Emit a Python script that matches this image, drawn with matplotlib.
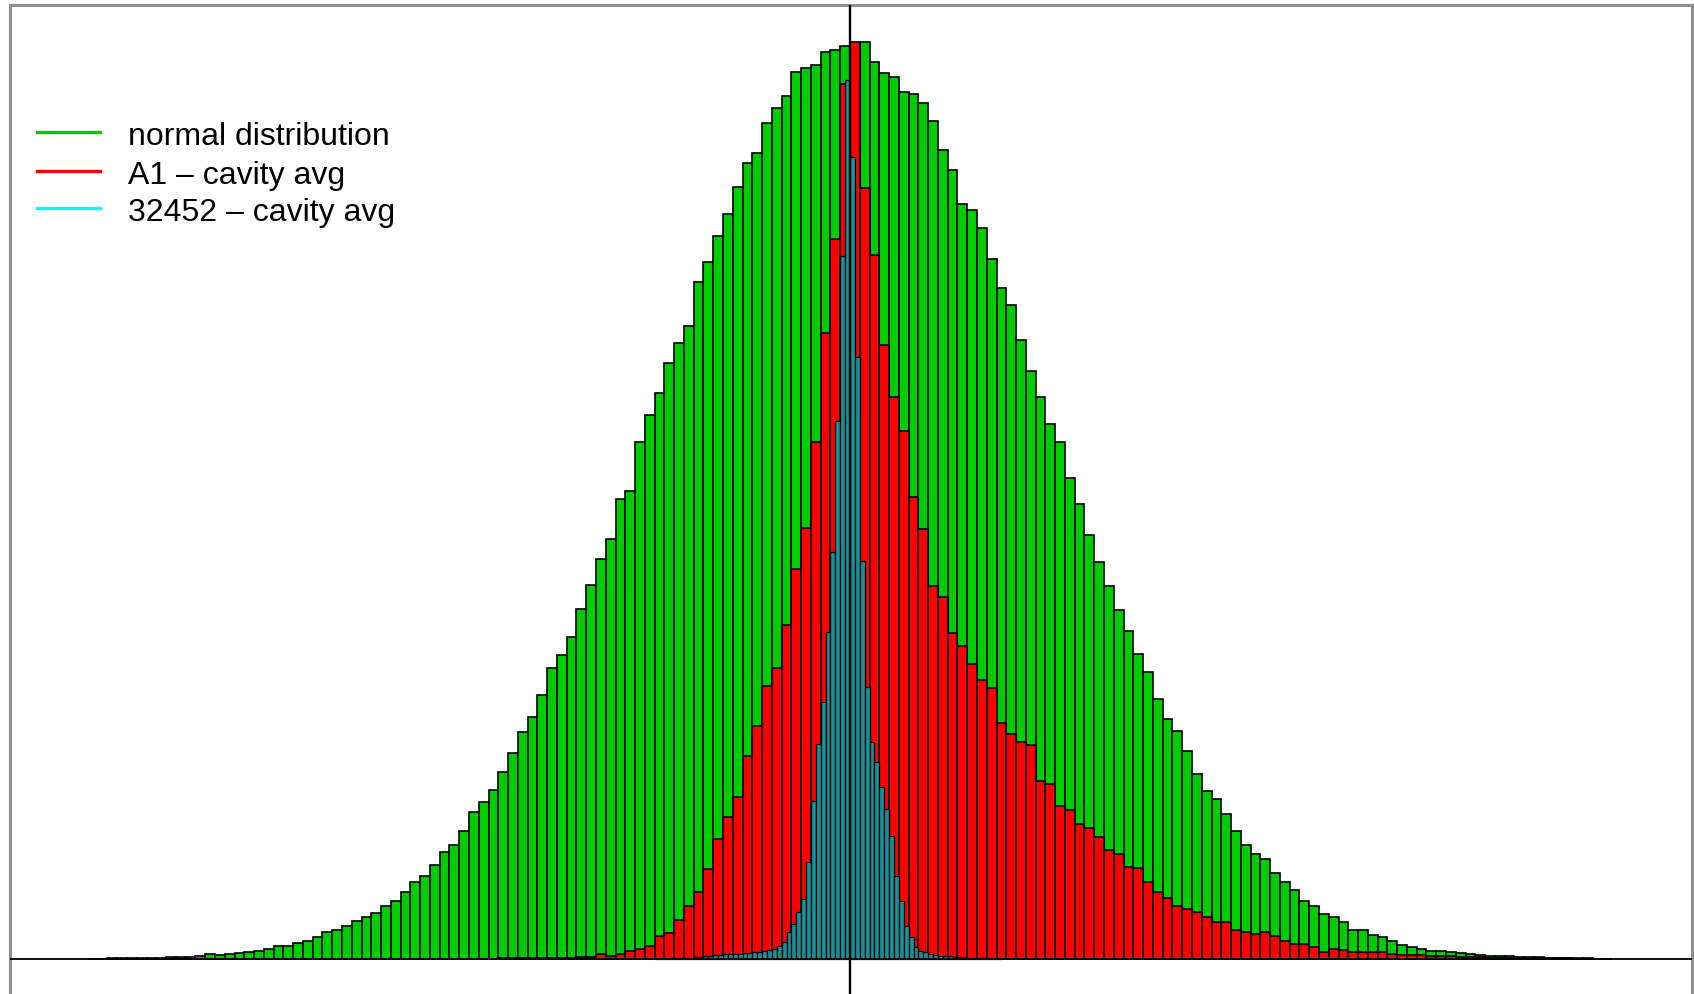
import numpy as np
import matplotlib
matplotlib.use("Agg")
import matplotlib.pyplot as plt
from matplotlib.lines import Line2D

# counts per bin (bin width = 1 unit, 0 = centre line)
GREEN_START = -78
green_counts = [
    0.3, 0.4, 0.5, 0.6, 0.7, 0.8, 1.0, 1.2, 1.5, 2.0,            # -78 .. -69
    2.3, 3.3, 5.0, 4.3, 5.0, 6.0, 7.3, 8.3, 10.0, 13.3,          # -68 .. -59
    13.3, 16.0, 18.3, 21.7, 26.7, 29.0, 33.3, 37.7, 42.3, 45.7,  # -58 .. -49
    53.3, 58.3, 66.7, 77.3, 83.3, 94.0, 106.7, 114.3, 128.3, 147.3,
    156.7, 169.3, 186.7, 206.0, 226.7, 242.3, 264.3, 290.7, 304.3, 321.7,
    350.0, 374.0, 400.0, 420.0, 460.0, 468.3, 516.7, 544.3, 566.0, 595.7,
    616.0, 633.3, 677.3, 696.7, 723.3, 745.0, 771.7, 795.7, 806.0, 835.7,
    851.0, 863.3, 886.7, 890.7, 894.0, 907.3, 909.3, 913.0,      # -8 .. -1
    914.0, 917.3, 897.3, 885.7, 882.3, 866.7, 865.0, 856.0, 837.7, 809.0,  # 0 .. 9
    789.3, 755.0, 749.3, 731.0, 700.0, 670.7, 654.0, 619.3, 587.7, 561.7,
    535.0, 516.7, 480.7, 455.0, 424.0, 396.7, 373.3, 349.3, 328.3, 305.0,
    286.7, 260.0, 240.0, 228.3, 208.3, 185.0, 168.3, 160.0, 145.0, 128.3,
    114.0, 105.0, 100.0, 85.7, 77.3, 69.0, 58.3, 53.3, 45.0, 42.3,
    37.3, 29.3, 29.3, 24.0, 21.7, 18.3, 14.0, 11.7, 10.0, 8.3,
    7.7, 7.3, 5.7, 5.0, 4.3, 3.3, 3.3, 2.7, 2.3, 2.0,
    1.7, 1.3, 1.0, 1.0, 0.7, 0.5, 0.4, 0.3,                      # 70 .. 77
]

RED_START = -40
red_counts = [
    0.3, 0.3, 0.4, 0.4, 0.5, 0.5, 0.6, 0.7, 0.8, 0.9,            # -40 .. -31
    1.0, 1.0, 1.5, 2.0, 5.0, 3.3, 5.0, 8.3, 10.0, 13.3,          # -30 .. -21
    22.7, 26.0, 39.3, 52.7, 66.7, 90.0, 120.0, 141.7, 161.7, 203.3,
    233.3, 273.3, 290.7, 334.0, 390.0, 430.7, 517.3, 626.0, 720.0, 875.0,  # -10 .. -1
    917.3, 770.7, 704.0, 614.0, 562.0, 528.3, 461.7, 430.0, 372.7, 362.3,  # 0 .. 9
    325.7, 312.7, 295.0, 279.3, 270.7, 236.0, 225.0, 216.7, 214.0, 178.3,
    175.0, 153.3, 149.3, 135.0, 130.7, 121.7, 109.3, 105.0, 92.0, 90.7,
    77.3, 67.3, 60.7, 53.3, 50.0, 47.3, 41.7, 37.3, 36.7, 29.3,
    26.7, 25.0, 26.7, 23.3, 18.3, 15.0, 15.0, 12.3, 7.3, 10.0,
    9.3, 7.3, 7.3, 6.7, 6.7, 5.0, 4.3, 4.3, 4.0, 3.3,
    2.7, 2.7, 2.3, 1.7, 1.5, 1.3, 1.3, 1.0, 1.2, 1.0,
    1.0, 0.7, 0.7, 0.5, 0.4, 0.3,                                # 70 .. 75
]

# 32452 uses half-width bins
CYAN_START = -40
CYAN_WIDTH = 0.5
cyan_counts = [
    0.3, 0.3, 0.4, 0.5, 0.6, 0.8, 1.0, 1.2, 1.5, 2.0,            # -40 .. -31
    2.5, 3.0, 3.5, 4.0, 4.5, 4.5, 5.0, 5.0, 5.5, 6.0,            # -30 .. -21
    6.5, 7.0, 8.0, 9.0, 10.0, 12.7, 16.7, 26.7, 35.0, 46.7,      # -20 .. -11
    60.0, 96.7, 158.3, 215.0, 256.7, 326.7, 406.7, 538.0, 703.0, 879.0,  # -10 .. -1
    802.0, 602.0, 398.3, 271.7, 216.7, 196.7, 171.7, 150.0, 123.3, 83.3,  # 0 .. 9
    58.3, 33.3, 21.7, 11.7, 8.3, 6.7, 5.0, 4.0, 3.3, 3.0,
    2.5, 2.0, 1.7, 1.5, 1.2, 1.0, 1.0, 0.8, 0.6, 0.5, 0.4,       # 20 .. 30
]

labels = ["normal distribution", "A1 \u2013 cavity avg", "32452 \u2013 cavity avg"]
legend_colors = ["#00cd00", "#ff0000", "#00ffff"]
bar_colors = ["#00cd00", "#ff0000", "#17919a"]

W, H = 1694, 995
fig = plt.figure(figsize=(W / 100, H / 100), dpi=100)
ax = fig.add_axes([9.5 / W, 1 - 1000 / H, (1692 - 9.5) / W, (1000 - 6) / H])

green_left = np.arange(len(green_counts)) + GREEN_START
red_left = np.arange(len(red_counts)) + RED_START
cyan_left = (np.arange(len(cyan_counts)) + CYAN_START) * CYAN_WIDTH

ax.bar(green_left, green_counts, width=1, align="edge",
       color=bar_colors[0], edgecolor="black", linewidth=1.2)
ax.bar(red_left, red_counts, width=1, align="edge",
       color=bar_colors[1], edgecolor="black", linewidth=1.2)
ax.bar(cyan_left, cyan_counts, width=CYAN_WIDTH, align="edge",
       color=bar_colors[2], edgecolor="black", linewidth=0.9)

ax.axvline(0, color="black", lw=1.7, zorder=5)
ax.axhline(0, color="black", lw=1.3, zorder=5)

ax.set_xlim(-86.03, 86.18)
ax.set_ylim(-40, 954)
ax.set_xticks([])
ax.set_yticks([])
for s in ax.spines.values():
    s.set_color("#8f8f8f")
    s.set_linewidth(2.2)

# legend, no box
line_y = [133, 172, 209]
text_y = [145, 184, 221]
for lab, col, ly, ty in zip(labels, legend_colors, line_y, text_y):
    fig.add_artist(Line2D([37 / W, 100 / W], [1 - ly / H, 1 - ly / H],
                          transform=fig.transFigure, color=col, lw=2.4))
    fig.text(128 / W, 1 - ty / H, lab, fontsize=23, family="Liberation Sans",
             va="baseline", ha="left", color="black")

fig.savefig("out.png", dpi=100)
